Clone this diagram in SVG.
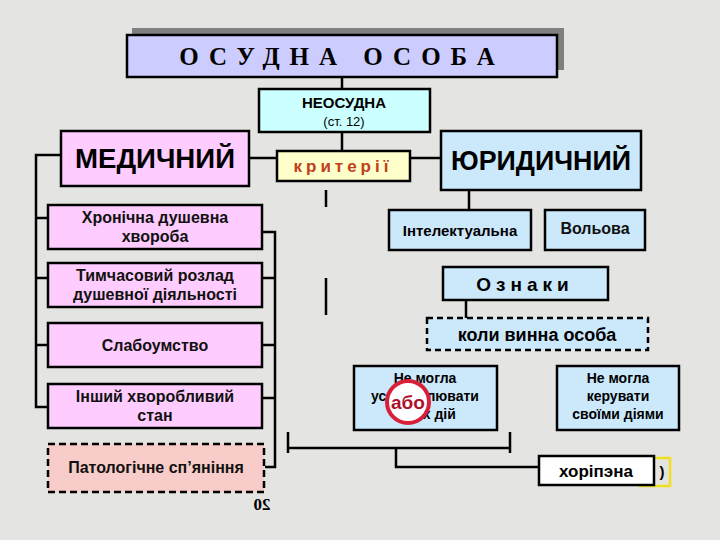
<svg xmlns="http://www.w3.org/2000/svg" width="720" height="540" viewBox="0 0 720 540">
<style>
.b{stroke:#000;stroke-width:2.5}
.t{font-family:"Liberation Sans",Arial,sans-serif;fill:#000;text-anchor:middle}
.s{font-size:16px;font-weight:bold;fill:#111}
.c{stroke:#000;stroke-width:2.5;fill:none}
.pink{fill:#ffccff}
.blue{fill:#cce8fb}
</style>
<rect width="720" height="540" fill="#e4e4e2"/>
<g id="title">
<rect x="132" y="28" width="432" height="42" fill="#808080"/>
<rect x="127" y="35" width="430" height="42" fill="#ccccff" class="b"/>
<text x="342" y="65" class="t" style="font-family:'Liberation Serif',serif;font-weight:bold" font-size="25" letter-spacing="10">ОСУДНА ОСОБА</text>
</g>
<g id="conn">
<path class="c" d="M342 77V89M342 132V151M249 158H277M410 158H441M469 190V210M326 190V207M326 278V315M466 300V318"/>
<path class="c" d="M61 155H36V407H48M36 218H48M36 278H48M36 345H48"/>
<path class="c" d="M262 232H275V467H265M262 278H275M262 345H275M262 398H275"/>
<path class="c" d="M288 432V453M288 448H510M510 432V453M396 448V467H539"/>
</g>
<g id="neosudna"><rect x="259" y="89" width="171" height="43" fill="#ccffff" class="b"/>
<text x="344" y="108" class="t" font-size="15" font-weight="bold">НЕОСУДНА</text><text x="344" y="126" class="t" font-size="13">(ст. 12)</text></g>
<g id="med"><rect x="61" y="131" width="188" height="55" class="b pink"/><text x="155" y="168" class="t" font-size="27" font-weight="bold" textLength="160" lengthAdjust="spacingAndGlyphs">МЕДИЧНИЙ</text></g>
<g id="krit"><rect x="277" y="151" width="133" height="30" fill="#ffffcc" class="b"/><text x="343" y="172" class="t" font-size="17" font-weight="bold" letter-spacing="4" style="fill:#c0401a">критерії</text></g>
<g id="yur"><rect x="441" y="131" width="200" height="59" class="b blue"/><text x="541" y="170" class="t" font-size="27" font-weight="bold" textLength="180" lengthAdjust="spacingAndGlyphs">ЮРИДИЧНИЙ</text></g>
<g id="m1"><rect x="48" y="205" width="214" height="44" class="b pink"/><text x="155" y="223" class="t s">Хронічна душевна</text><text x="155" y="242" class="t s">хвороба</text></g>
<g id="m2"><rect x="48" y="263" width="214" height="44" class="b pink"/><text x="155" y="281" class="t s">Тимчасовий розлад</text><text x="155" y="300" class="t s">душевної діяльності</text></g>
<g id="m3"><rect x="48" y="323" width="214" height="44" class="b pink"/><text x="155" y="351" class="t s">Слабоумство</text></g>
<g id="m4"><rect x="48" y="384" width="214" height="44" class="b pink"/><text x="155" y="402" class="t s">Інший хворобливий</text><text x="155" y="421" class="t s">стан</text></g>
<g id="m5"><rect x="48" y="444" width="216" height="48" fill="#f8ccc8" class="b" stroke-dasharray="7 4"/><text x="156" y="473" class="t s">Патологічне сп’яніння</text></g>
<g id="int"><rect x="389" y="210" width="142" height="40" class="b blue"/><text x="460" y="236" class="t" font-size="15" font-weight="bold">Інтелектуальна</text></g>
<g id="vol"><rect x="545" y="210" width="100" height="40" class="b blue"/><text x="595" y="234" class="t s">Вольова</text></g>
<g id="ozn"><rect x="443" y="267" width="165" height="33" class="b blue"/><text x="525" y="291" class="t" font-size="19" font-weight="bold" letter-spacing="5">Ознаки</text></g>
<g id="koly"><rect x="427" y="318" width="221" height="32" class="b blue" stroke-dasharray="6 4"/><text x="537" y="341" class="t" font-size="18" font-weight="bold">коли  винна  особа</text></g>
<g id="n1"><rect x="354" y="366" width="143" height="64" class="b blue"/><text x="425" y="383" class="t" font-size="14" font-weight="bold">Не могла</text><text x="425" y="401" class="t" font-size="14" font-weight="bold">усвідомлювати</text><text x="425" y="419" class="t" font-size="14" font-weight="bold">своїх дій</text>
<circle cx="408" cy="402" r="21" fill="#fff" stroke="#d8203a" stroke-width="4"/><text x="408" y="409" class="t" font-size="19" font-weight="bold" style="fill:#b0102a">або</text></g>
<g id="n2"><rect x="557" y="366" width="122" height="64" class="b blue"/><text x="618" y="383" class="t" font-size="14" font-weight="bold">Не могла</text><text x="618" y="401" class="t" font-size="14" font-weight="bold">керувати</text><text x="618" y="419" class="t" font-size="14" font-weight="bold">своїми діями</text></g>
<g id="vysn"><rect x="640" y="458" width="30" height="28" fill="none" stroke="#f0e020" stroke-width="2.5"/><text x="662" y="477" class="t" font-size="15" font-weight="bold">)</text>
<rect x="539" y="456" width="115" height="29" fill="#fff" class="b"/><text x="596" y="477" class="t" font-size="17" font-weight="bold">хоріпэна</text></g>
<text transform="translate(262,510) scale(-1,1)" class="t" style="font-family:'Liberation Serif',serif;font-weight:bold" font-size="17">20</text>
</svg>
